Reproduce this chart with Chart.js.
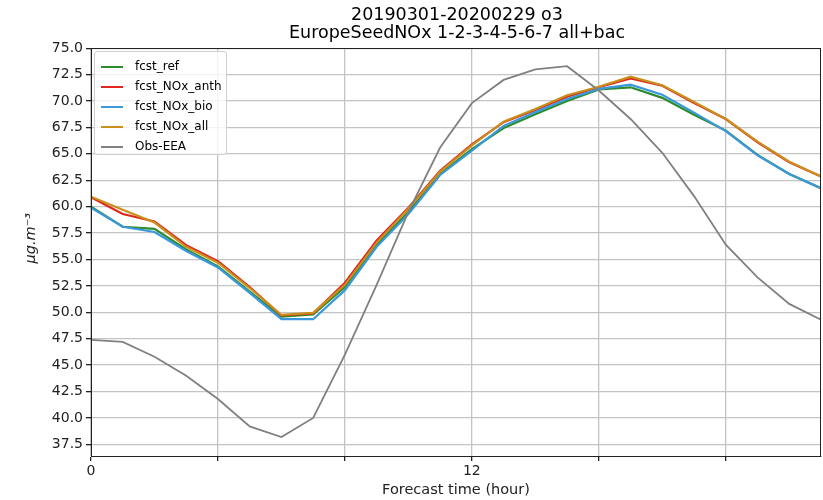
<!DOCTYPE html>
<html>
<head>
<meta charset="utf-8">
<script src="https://cdn.jsdelivr.net/npm/chart.js"></script>
<style>
    html, body { margin: 0; padding: 0; background: #fff; overflow: hidden; }
    #wrap { position: relative; width: 823px; height: 500px; }
    #title {
        position: absolute; left: 0; top: 5px; width: 914px;
        text-align: center; font: 17.5px "DejaVu Sans", sans-serif; line-height: 18px; color: #000;
    }
    #legend {
        position: absolute; left: 94px; top: 51px; width: 133px; height: 104px;
        border: 1px solid #d0d0d0; border-radius: 3px; background: rgba(255,255,255,0.8);
        font: 12px "DejaVu Sans", sans-serif; color: #000; box-sizing: border-box; padding-top: 5px;
    }
    .row { height: 20px; position: relative; }
    .row i { position: absolute; left: 6px; top: 9px; width: 22px; height: 2px; }
    .row span { position: absolute; left: 40px; top: 2px; }
</style>
</head>
<body>
<div id="wrap">
    <canvas id="chart" width="823" height="500"></canvas>
    <div id="title">20190301-20200229 o3<br>EuropeSeedNOx 1-2-3-4-5-6-7 all+bac</div>
    <div id="legend"></div>
</div>
<script>
// forecast hours
const hours = [0, 1, 2, 3, 4, 5, 6, 7, 8, 9, 10, 11, 12, 13, 14, 15, 16, 17, 18, 19, 20, 21, 22, 23];

// series (ug/m3)
const fcstRef = [60.0, 58.1, 57.9, 55.95, 54.35, 51.95, 49.6, 49.8, 52.4, 56.4, 59.5, 63.1,
    65.45, 67.45, 68.75, 70.0, 71.1, 71.3, 70.3, 68.7, 67.2, 64.9, 63.1, 61.75];
const fcstAnth = [60.9, 59.3, 58.6, 56.35, 54.85, 52.4, 49.7, 49.9, 52.8, 56.8, 59.9, 63.4,
    65.9, 68.0, 69.15, 70.4, 71.3, 72.15, 71.45, 69.8, 68.3, 66.1, 64.2, 62.85];
const fcstBio = [59.9, 58.1, 57.6, 55.8, 54.25, 51.85, 49.35, 49.35, 52.1, 56.2, 59.3, 63.0,
    65.3, 67.65, 68.95, 70.2, 71.15, 71.55, 70.6, 68.9, 67.15, 64.85, 63.1, 61.75];
const fcstAll = [60.95, 59.7, 58.5, 56.2, 54.7, 52.3, 49.75, 49.95, 52.6, 56.6, 59.8, 63.3,
    65.8, 68.05, 69.25, 70.55, 71.35, 72.3, 71.5, 69.9, 68.3, 66.15, 64.25, 62.85];
const obsEEA = [47.4, 47.2, 45.8, 44.0, 41.8, 39.2, 38.2, 40.0, 46.0, 52.6, 59.5, 65.6,
    69.8, 72.0, 73.0, 73.3, 71.0, 68.3, 65.1, 61.0, 56.4, 53.3, 50.8, 49.3];

// ticks
const xTicks = [0, 4, 8, 12, 16, 20];
const xTickLabels = ['0', '', '', '12', '', ''];
const yTicks = [37.5, 40.0, 42.5, 45.0, 47.5, 50.0, 52.5, 55.0, 57.5, 60.0, 62.5, 65.0, 67.5, 70.0, 72.5, 75.0];

const seriesNames = ['fcst_ref', 'fcst_NOx_anth', 'fcst_NOx_bio', 'fcst_NOx_all', 'Obs-EEA'];
const seriesValues = [fcstRef, fcstAnth, fcstBio, fcstAll, obsEEA];
const seriesColors = ['#2a8c2a', '#e0261e', '#3a98dc', '#c98e1c', '#808080'];

const datasets = seriesNames.map((name, i) => ({
    label: name,
    data: hours.map((h, j) => ({ x: h, y: seriesValues[i][j] })),
    borderColor: seriesColors[i],
    backgroundColor: seriesColors[i],
    borderWidth: i === 4 ? 1.8 : 2.2,
    pointRadius: 0,
    tension: 0,
    order: 5 - i
}));

// legend inside the plot
const legend = document.getElementById('legend');
seriesNames.forEach((name, i) => {
    const row = document.createElement('div');
    row.className = 'row';
    row.innerHTML = '<i style="background:' + seriesColors[i] + '"></i><span>' + name + '</span>';
    legend.appendChild(row);
});

// box around the plot area
const frame = {
    id: 'frame',
    afterDatasetsDraw(chart) {
        const a = chart.chartArea, c = chart.ctx;
        c.save();
        c.strokeStyle = '#222';
        c.lineWidth = 1;
        c.strokeRect(a.left + 0.5, a.top + 0.5, a.right - a.left - 1, a.bottom - a.top);
        c.restore();
    }
};

const tickFont = { family: 'DejaVu Sans', size: 14 };

new Chart(document.getElementById('chart'), {
    type: 'line',
    data: { datasets: datasets },
    options: {
        responsive: false,
        animation: false,
        layout: { padding: { top: 48, right: 2, left: 0, bottom: 0 } },
        plugins: { legend: { display: false }, tooltip: { enabled: false }, title: { display: false } },
        scales: {
            x: {
                type: 'linear',
                min: 0,
                max: 23,
                afterBuildTicks: axis => { axis.ticks = xTicks.map(v => ({ value: v })); },
                afterFit: s => { s.height = 44; },
                ticks: {
                    color: '#222',
                    font: tickFont,
                    padding: 2,
                    maxRotation: 0,
                    autoSkip: false,
                    callback: (v, i) => xTickLabels[i]
                },
                grid: { color: '#c4c4c4', lineWidth: 1.3, tickColor: '#222', tickLength: 5 },
                border: { color: '#222', width: 1 },
                title: {
                    display: true,
                    text: 'Forecast time (hour)',
                    color: '#222',
                    font: { family: 'DejaVu Sans', size: 14.5 },
                    padding: { top: 0, bottom: 1 }
                }
            },
            y: {
                type: 'linear',
                min: 36.4,
                max: 75.02,
                afterBuildTicks: axis => { axis.ticks = yTicks.map(v => ({ value: v })); },
                afterFit: s => { s.width = 91; },
                ticks: {
                    color: '#222',
                    font: tickFont,
                    padding: 3,
                    callback: v => v.toFixed(1)
                },
                grid: { color: '#c4c4c4', lineWidth: 1.3, tickColor: '#222', tickLength: 5 },
                border: { color: '#222', width: 1 },
                title: {
                    display: true,
                    text: '\u00a0\u00a0\u00a0\u00a0\u00a0\u00a0μg.m⁻³',
                    color: '#222',
                    font: { family: 'DejaVu Sans', size: 14.5, style: 'italic' },
                    padding: { top: 23, bottom: 0 }
                }
            }
        }
    },
    plugins: [frame]
});
</script>
</body>
</html>
